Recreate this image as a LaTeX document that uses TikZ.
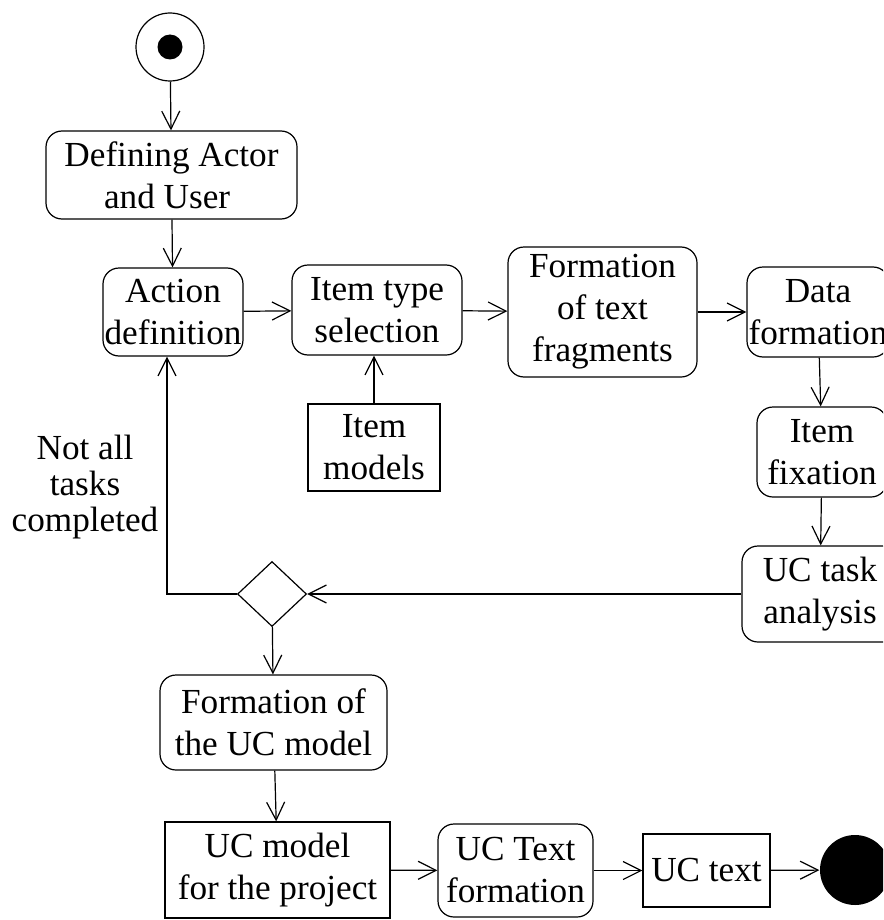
\documentclass[tikz,border=0pt]{standalone}
\usepackage{fontspec}
\setmainfont{Liberation Serif}
\usetikzlibrary{arrows.meta,shapes.geometric}
\begin{document}
\begin{tikzpicture}[x=0.5pt,y=-0.5pt,line width=0.6pt,
    every node/.style={font=\fontsize{17.6}{21}\selectfont,align=center,inner sep=0pt},
    act/.style={draw,rounded corners=8pt},
    obj/.style={draw},
    >={Straight Barb[length=9pt,width=9pt]}]
  \useasboundingbox (0,0) rectangle (883,920);
  \clip (0,0) rectangle (883,920);
  \draw
    (170,47) node[circle,draw,minimum size=34pt] (start){}
    (170,47) node[circle,fill,minimum size=12.5pt] (startdot){}
    (171.5,175) node[act,minimum width=125.5pt,minimum height=44pt] (defact){Defining Actor\\and User\ \ }
    (173,312) node[act,minimum width=70pt,minimum height=44pt] (actdef){Action\\definition}
    (377,310) node[act,minimum width=85pt,minimum height=45pt] (itemsel){Item type\\selection}
    (602.5,312) node[act,minimum width=94.5pt,minimum height=65pt] (textfrag){Formation\\of text\\fragments}
    (818,312) node[act,minimum width=71pt,minimum height=45pt] (datafrm){Data\\formation}
    (822,452) node[act,minimum width=65pt,minimum height=45pt] (itemfix){Item\\fixation}
    (820,594) node[act,minimum width=78pt,minimum height=48pt] (taskan){UC task\\analysis}
    (374,447.5) node[obj,minimum width=66pt,minimum height=43.5pt] (itemmod){Item\\models}
    (272,594) node[diamond,draw,minimum width=34.5pt,minimum height=32.5pt] (dec){}
    (85,487) node[font=\fontsize{17.6}{18}\selectfont] (notall){Not all\\tasks\\completed}
    (273.5,722.5) node[act,minimum width=113.5pt,minimum height=47.5pt] (ucform){Formation of\\the UC model}
    (277.5,870) node[obj,minimum width=112.5pt,minimum height=48pt] (ucmodel){UC model\\for the project}
    (515.5,870.5) node[act,minimum width=77.5pt,minimum height=46.5pt] (uctextf){UC Text\\formation}
    (706.5,870.5) node[obj,minimum width=63.5pt,minimum height=36.5pt] (uctext){UC text}
    (855,870) node[circle,fill,minimum size=35pt] (end){};
  \begin{scope}[->]
    \draw (start) to (defact);
    \draw (defact) to (actdef);
    \draw (actdef) to (itemsel);
    \draw (itemsel) to (textfrag);
    \draw (textfrag) to (datafrm);
    \draw (datafrm) to (itemfix);
    \draw (itemfix) to (taskan);
    \draw (taskan) to (dec);
    \draw (dec.west) -| ([xshift=-3pt]actdef.south);
    \draw (itemmod.north) to (itemmod.north |- itemsel.south);
    \draw (dec) to (ucform);
    \draw (ucform) to (ucmodel);
    \draw (ucmodel) to (uctextf);
    \draw (uctextf) to (uctext);
    \draw (uctext) to (end);
  \end{scope}
\end{tikzpicture}
\end{document}
